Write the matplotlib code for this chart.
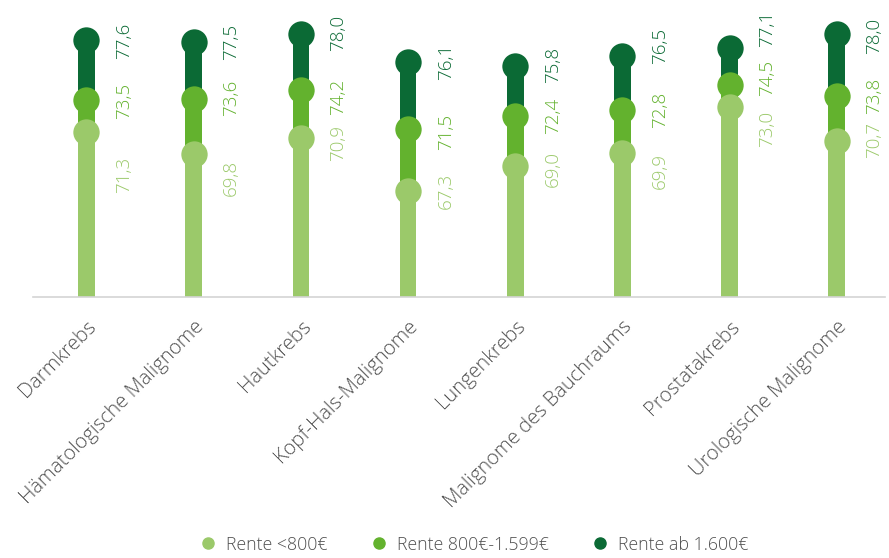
import matplotlib.pyplot as plt
from matplotlib.lines import Line2D

# Daten
kategorien = ["Darmkrebs", "Hämatologische Malignome", "Hautkrebs", "Kopf-Hals-Malignome",
              "Lungenkrebs", "Malignome des Bauchraums", "Prostatakrebs", "Urologische Malignome"]
rente_unter_800 = [71.3, 69.8, 70.9, 67.3, 69.0, 69.9, 73.0, 70.7]
rente_800_1599 = [73.5, 73.6, 74.2, 71.5, 72.4, 72.8, 74.5, 73.8]
rente_ab_1600 = [77.6, 77.5, 78.0, 76.1, 75.8, 76.5, 77.1, 78.0]
serien_namen = ["Rente <800€", "Rente 800€-1.599€", "Rente ab 1.600€"]

# label nudges in pixels (positive = down), to keep labels from overlapping
nudge_dark = [1, 0, -1, 0, -2, -10, -19, 2]
nudge_mid = [1, -1, 7, 3, 0, 0, -8, 0]
nudge_light = [43, 24, 5, 0, 3, 18, 22, -1]

HELL = "#9bc96a"
MITTEL = "#63b22e"
DUNKEL = "#0b6a35"
BASIS = 60

plt.rcParams['font.family'] = ['Open Sans', 'DejaVu Sans']

fig = plt.figure(figsize=(8.89, 5.58), dpi=100)
ax = fig.add_axes([0.037, 0.4677, 0.9585, 0.523])

x = list(range(len(kategorien)))

# draw back to front: tallest series first
serien = [(rente_ab_1600, DUNKEL, nudge_dark),
          (rente_800_1599, MITTEL, nudge_mid),
          (rente_unter_800, HELL, nudge_light)]
for werte, farbe, nudge in serien:
    hoehen = [w - BASIS for w in werte]
    ax.bar(x, hoehen, bottom=BASIS, width=0.155, color=farbe, zorder=2)
    ax.scatter(x, werte, s=360, color=farbe, zorder=3, linewidths=0)

for werte, farbe, nudge in serien:
    for xi, w, n in zip(x, werte, nudge):
        ax.annotate(f"{w:.1f}".replace('.', ','), (xi, w),
                    xytext=(27, -n * 0.72), textcoords='offset points',
                    rotation=90, ha='center', va='center',
                    fontsize=13.5, fontweight='light', color=farbe)

ax.set_xlim(-0.5, 7.45)
ax.set_ylim(BASIS, 80)
ax.set_yticks([])
ax.set_xticks(x)
ax.set_xticklabels(kategorien, rotation=45, ha='right', rotation_mode='anchor',
                   fontsize=14.5, fontweight='light', color='#505050')
ax.tick_params(axis='x', length=0, pad=14)
for s in ['top', 'right', 'left']:
    ax.spines[s].set_visible(False)
ax.spines['bottom'].set_color('#d4d4d4')
ax.spines['bottom'].set_linewidth(1.2)

handles = [Line2D([], [], marker='o', linestyle='', markersize=8, color=c)
           for c in [HELL, MITTEL, DUNKEL]]
fig.legend(handles, serien_namen, loc='center', bbox_to_anchor=(0.528, 0.024),
           ncol=3, frameon=False, handletextpad=0.0,
           columnspacing=1.9, labelcolor='#505050',
           prop={'size': 12.8, 'weight': 'light'})

fig.savefig("out.png", dpi=100)
